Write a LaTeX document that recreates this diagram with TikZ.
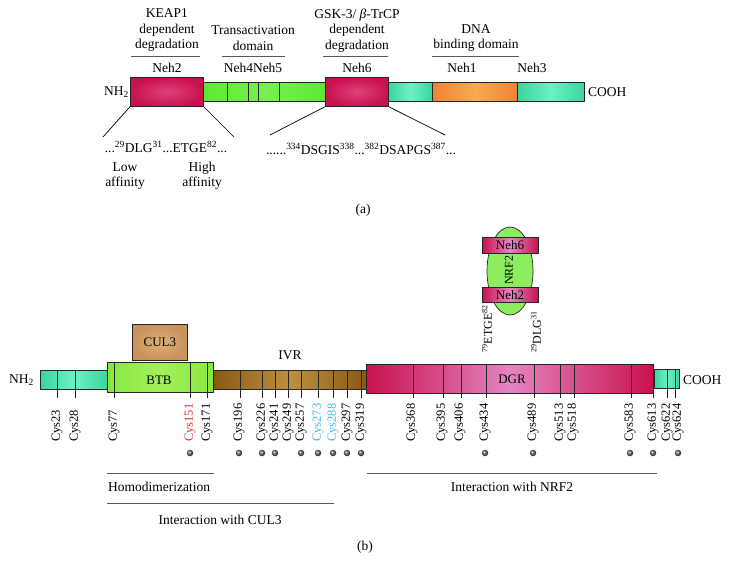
\documentclass[tikz,border=0pt]{standalone}
\usepackage{fontspec}
\setmainfont{Liberation Serif}
\usetikzlibrary{shapes.geometric,shadings}
\definecolor{crim}{HTML}{C8124E}
\definecolor{pinkin}{HTML}{E0407E}
\definecolor{dgrmid}{HTML}{E384C0}
\definecolor{grn}{HTML}{5CE832}
\definecolor{grnlt}{HTML}{78F050}
\definecolor{teal}{HTML}{3CD49C}
\definecolor{teallt}{HTML}{6EF0C4}
\definecolor{orng}{HTML}{EE8438}
\definecolor{ornglt}{HTML}{F8AA50}
\definecolor{lime}{HTML}{88E83E}
\definecolor{limelt}{HTML}{A2F058}
\definecolor{brn}{HTML}{8A5814}
\definecolor{brnlt}{HTML}{BC9040}
\definecolor{tan}{HTML}{C8925A}
\definecolor{tanlt}{HTML}{DEB078}
\definecolor{nrfg}{HTML}{8CEE5E}
\definecolor{cysred}{HTML}{E03232}
\definecolor{cysblue}{HTML}{46B4E6}
\tikzset{
  txt/.style={font=\fontsize{13.5}{15.5}\selectfont, inner sep=0pt, align=center},
  lbl/.style={font=\fontsize{13}{15}\selectfont, inner sep=0pt},
  cyslab/.style={font=\fontsize{12.5}{14}\selectfont, inner sep=0pt, rotate=90, anchor=west},
  seg/.style 2 args={draw=black!85, line width=0.7pt, inner sep=0pt, anchor=north west, minimum width=#1pt, minimum height=#2pt},
  cysline/.style={line width=0.6pt, black!85},
  spanline/.style={line width=1pt, black!65},
  sdot/.style={circle, inner sep=0pt, minimum size=6.5pt, ball color=black!60},
  pinkbox/.style={inner color=pinkin, outer color=crim},
  crimbar/.style={left color=crim, right color=crim, middle color=dgrmid},
}
\begin{document}
\begin{tikzpicture}[x=1pt,y=-1pt]
\useasboundingbox (0,0) rectangle (730,572);
% ---------------- (a) ----------------
\node[txt] (tkeap) at (167,30.5) {KEAP1\\dependent\\degradation};
\node[txt] (ttrans) at (253,38) {Transactivation\\domain};
\node[txt] (tgsk) at (357,30.5) {GSK-3/ \textit{β}-TrCP\\dependent\\degradation};
\node[txt] (tdna) at (476,38) {DNA\\binding domain};
\coordinate (l1a) at (131,57); \coordinate (l1b) at (200,57);
\coordinate (l2a) at (222,57); \coordinate (l2b) at (285,57);
\coordinate (l3a) at (323,57); \coordinate (l3b) at (388,57);
\coordinate (l4a) at (432,57); \coordinate (l4b) at (519,57);
\draw[spanline] (l1a) -- (l1b);
\draw[spanline] (l2a) -- (l2b);
\draw[spanline] (l3a) -- (l3b);
\draw[spanline] (l4a) -- (l4b);
\node[txt] (tneh2) at (167,68) {Neh2};
\node[txt] (tneh45) at (253,68) {Neh4Neh5};
\node[txt] (tneh6) at (357,68) {Neh6};
\node[txt] (tneh1) at (462,68) {Neh1};
\node[txt] (tneh3) at (532,68) {Neh3};

\node[seg={122}{19}, left color=grn, right color=grn, middle color=grnlt] (agreen) at (203,82) {};
\foreach \x in {227,248,258,279} \draw[cysline] (\x,82) -- (\x,101);
\node[seg={44}{19}, left color=teal, right color=teal, middle color=teallt] (ateal1) at (388,82) {};
\node[seg={85}{19}, left color=orng, right color=orng, middle color=ornglt] (aorange) at (432,82) {};
\node[seg={67}{19}, left color=teal, right color=teal, middle color=teallt] (ateal2) at (517,82) {};
\node[seg={73}{29}, pinkbox] (aneh2) at (130,77) {};
\node[seg={63}{29}, pinkbox] (aneh6) at (325,77) {};
\node[txt, anchor=east] (anh2) at (129,92) {NH\textsubscript{2}};
\node[txt, anchor=west] (acooh) at (588,92) {COOH};

\coordinate (d1) at (103,137);
\coordinate (d2) at (234,137);
\coordinate (d3) at (270,135);
\coordinate (d4) at (445,135);
\draw[line width=0.7pt] (aneh2.south west) -- (d1);
\draw[line width=0.7pt] (aneh2.south east) -- (d2);
\draw[line width=0.7pt] (aneh6.south west) -- (d3);
\draw[line width=0.7pt] (aneh6.south east) -- (d4);

\node[txt] (aseq1) at (166,147) {...\textsuperscript{29}DLG\textsuperscript{31}...ETGE\textsuperscript{82}...};
\node[txt] (aseq2) at (361,149) {......\textsuperscript{334}DSGIS\textsuperscript{338}...\textsuperscript{382}DSAPGS\textsuperscript{387}...};
\node[txt] (alow) at (125,176) {Low\\affinity};
\node[txt] (ahigh) at (202,176) {High\\affinity};
\node[txt] (acap) at (363,210) {(a)};

% ---------------- (b) ----------------
\node[seg={67}{19}, left color=teal, right color=teal, middle color=teallt] (btealL) at (40,370) {};
\node[seg={153}{19}, left color=brn, right color=brn, middle color=brnlt] (bbrown) at (213,370) {};
\node[seg={106}{30}, left color=lime, right color=lime, middle color=limelt] (bbtb) at (107,362) {};
\node[seg={287}{29}, crimbar] (bdgr) at (366,364) {};
\node[seg={25}{19}, left color=teal, right color=teal, middle color=teallt] (btealR) at (654,369) {};
\node[seg={55}{36}, inner color=tanlt, outer color=tan] (bcul3) at (132,324) {};
\node[lbl] (tcul3) at (bcul3.center) {CUL3};
\node[lbl] (tbtb) at (159,380) {BTB};
\node[lbl] (tdgr) at (512,379) {DGR};
\node[txt] (tivr) at (290,355) {IVR};
\node[txt, anchor=east] (bnh2) at (34,380) {NH\textsubscript{2}};
\node[txt, anchor=west] (bcooh) at (683,380) {COOH};

\foreach \x/\t in {57/370,75/370,114/362,190/362,207/362,240/370,262/370,275/370,288/370,301/370,318/370,333/370,347/370,361/370,413/364,443/364,461/364,486/364,534/364,560/364,574/364,631/364,653/393,667/369,675/369}
  \draw[cysline] (\x,\t) -- (\x,398);

\foreach \x/\n/\c in {57/23/black,75/28/black,114/77/black,190/151/cysred,207/171/black,239/196/black,262/226/black,275/241/black,288/249/black,301/257/black,318/273/cysblue,333/288/cysblue,347/297/black,361/319/black,412/368/black,442/395/black,460/406/black,485/434/black,533/489/black,560/513/black,573/518/black,630/583/black,653/613/black,667/622/black,678/624/black}
  \node[cyslab, text=\c] (cys\n) at (\x,442) {Cys\n};

\foreach \x/\n in {190/151,239/196,262/226,275/241,301/257,318/273,333/288,347/297,361/319,485/434,533/489,630/583,653/613,678/624}
  \node[sdot] (dot\n) at (\x,453) {};

% NRF2 complex
\node[ellipse, draw=black!85, line width=0.7pt, fill=nrfg, minimum width=46pt, minimum height=88pt, inner sep=0pt] (nrf2) at (510,271) {};
\node[font=\fontsize{12}{14}\selectfont, rotate=90, inner sep=0pt] (tnrf2) at (509,270) {NRF2};
\node[draw=black!85, line width=0.7pt, crimbar, minimum width=56pt, minimum height=16pt, inner sep=0pt, font=\fontsize{13}{15}\selectfont] (bneh6) at (510,245) {Neh6};
\node[draw=black!85, line width=0.7pt, crimbar, minimum width=56pt, minimum height=15pt, inner sep=0pt, font=\fontsize{13}{15}\selectfont] (bneh2) at (510,295) {Neh2};
\node[cyslab, font=\fontsize{12}{14}\selectfont] (tetge) at (487,353) {\textsuperscript{79}ETGE\textsuperscript{82}};
\node[cyslab, font=\fontsize{12}{14}\selectfont] (tdlg) at (536,353) {\textsuperscript{29}DLG\textsuperscript{31}};

% spans
\coordinate (h1) at (107,473); \coordinate (h2) at (214,473);
\coordinate (c1) at (107,503); \coordinate (c2) at (334,503);
\coordinate (n1) at (367,473); \coordinate (n2) at (657,473);
\draw[spanline] (h1) -- (h2);
\draw[spanline] (c1) -- (c2);
\draw[spanline] (n1) -- (n2);
\node[txt, anchor=west] (thomo) at (108,487) {Homodimerization};
\node[txt] (tcul3i) at (220,520) {Interaction with CUL3};
\node[txt] (tnrf2i) at (512,487) {Interaction with NRF2};
\node[txt] (bcap) at (365,547) {(b)};
\end{tikzpicture}
\end{document}
